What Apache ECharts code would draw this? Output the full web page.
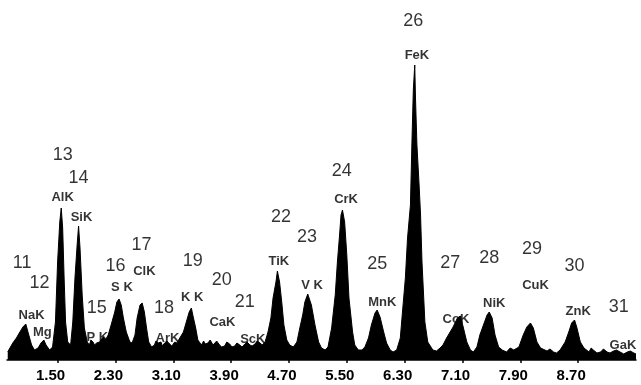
<!DOCTYPE html>
<html>
<head>
<meta charset="utf-8">
<script src="https://cdn.jsdelivr.net/npm/echarts@6/dist/echarts.min.js"></script>
<style>
  html, body { margin: 0; padding: 0; background: #fff; }
  #chart { width: 641px; height: 385px; }
</style>
</head>
<body>
<div id="chart"></div>
<script>
// spectrum: energy (keV) and counts
var energy = [
  0.81, 0.84, 0.88, 0.93, 0.97, 1.02, 1.06, 1.09, 1.14, 1.18,
  1.23, 1.27, 1.31, 1.34, 1.39, 1.43, 1.47, 1.50, 1.53, 1.55,
  1.57, 1.59, 1.61, 1.64, 1.68, 1.71, 1.74, 1.77, 1.79, 1.81,
  1.84, 1.87, 1.91, 1.94, 1.99, 2.04, 2.08, 2.13, 2.16, 2.20,
  2.24, 2.29, 2.32, 2.35, 2.38, 2.41, 2.45, 2.50, 2.53, 2.57,
  2.60, 2.64, 2.67, 2.70, 2.73, 2.76, 2.80, 2.84, 2.89, 2.93,
  2.98, 3.05, 3.12, 3.19, 3.24, 3.28, 3.32, 3.35, 3.37, 3.41,
  3.44, 3.49, 3.54, 3.58, 3.63, 3.67, 3.74, 3.81, 3.88, 3.95,
  4.02, 4.09, 4.16, 4.23, 4.30, 4.37, 4.41, 4.45, 4.48, 4.52,
  4.54, 4.57, 4.60, 4.63, 4.67, 4.71, 4.76, 4.81, 4.85, 4.89,
  4.92, 4.96, 5.01, 5.06, 5.11, 5.15, 5.20, 5.24, 5.29, 5.34,
  5.37, 5.40, 5.42, 5.44, 5.47, 5.50, 5.53, 5.58, 5.61, 5.66,
  5.71, 5.75, 5.80, 5.84, 5.89, 5.92, 5.96, 6.01, 6.05, 6.10,
  6.14, 6.19, 6.24, 6.27, 6.31, 6.34, 6.38, 6.40, 6.42, 6.44,
  6.45, 6.47, 6.50, 6.52, 6.54, 6.58, 6.62, 6.69, 6.79, 6.88,
  6.97, 7.03, 7.07, 7.11, 7.16, 7.21, 7.25, 7.30, 7.34, 7.39,
  7.44, 7.47, 7.51, 7.55, 7.60, 7.65, 7.71, 7.81, 7.88, 7.94,
  7.99, 8.04, 8.08, 8.13, 8.18, 8.27, 8.36, 8.45, 8.52, 8.57,
  8.61, 8.65, 8.68, 8.73, 8.78, 8.85, 8.91, 9.01, 9.10, 9.19,
  9.28, 9.38, 9.47, 9.50
];
var counts = [
  8, 12, 17, 22, 27, 33, 36, 28, 15, 10,
  12, 17, 20, 15, 10, 13, 38, 98, 138, 152,
  132, 82, 38, 18, 15, 38, 82, 115, 134, 112,
  65, 32, 18, 15, 18, 17, 18, 23, 20, 25,
  35, 48, 58, 61, 55, 42, 28, 18, 17, 25,
  42, 55, 57, 48, 32, 18, 13, 15, 17, 18,
  17, 16, 18, 22, 28, 38, 48, 52, 45, 32,
  20, 15, 16, 17, 18, 17, 15, 14, 16, 14,
  15, 16, 15, 16, 17, 18, 28, 42, 62, 78,
  89, 78, 58, 35, 20, 15, 13, 18, 32, 45,
  58, 66, 55, 35, 18, 12, 10, 13, 32, 65,
  98, 125, 145, 150, 138, 105, 62, 28, 15, 10,
  10, 13, 22, 35, 47, 50, 43, 28, 17, 10,
  8, 10, 22, 48, 82, 122, 155, 215, 270, 295,
  262, 215, 175, 145, 98, 38, 18, 10, 12, 22,
  33, 42, 44, 33, 18, 10, 8, 13, 25, 35,
  45, 48, 42, 25, 13, 10, 8, 10, 13, 25,
  33, 37, 32, 18, 12, 9, 8, 10, 18, 28,
  37, 40, 33, 18, 12, 8, 10, 8, 8, 9,
  8, 8, 7, 6
];

// ragged background between the peaks
var noiseE = [1.96, 2.01, 2.06, 2.10, 2.86, 2.95, 3.01, 3.08, 3.15,
              3.52, 3.56, 3.61, 3.65, 3.70, 3.77, 3.84, 3.91, 3.98,
              4.05, 4.12, 4.19, 4.26, 4.33, 6.74, 6.83, 7.76, 8.31, 8.40,
              8.88, 8.96, 9.05, 9.14, 9.23, 9.33, 9.42];
var noiseC = [20, 15, 19, 16, 19, 14, 19, 14, 17,
              19, 14, 20, 15, 19, 13, 18, 13, 17,
              13, 18, 14, 19, 15, 9, 15, 12, 11, 7,
              12, 7, 11, 7, 10, 6, 9];

var tickValues = [1.5, 2.3, 3.1, 3.9, 4.7, 5.5, 6.3, 7.1, 7.9, 8.7];

// element labels and where they sit (keV, counts)
var lineNames = ['NaK', 'Mg', 'AlK', 'SiK', 'P K', 'S K', 'ClK', 'ArK', 'K K', 'CaK', 'ScK',
                 'TiK', 'V K', 'CrK', 'MnK', 'FeK', 'CoK', 'NiK', 'CuK', 'ZnK', 'GaK'];
var lineNameE = [1.14, 1.29, 1.57, 1.83, 2.05, 2.39, 2.70, 3.02, 3.36, 3.78, 4.20,
                 4.56, 5.02, 5.49, 5.99, 6.47, 7.01, 7.54, 8.11, 8.70, 9.32];
var lineNameY = [45, 28, 163, 143, 23, 73, 89, 22, 63, 38, 21,
                 99, 75, 161, 58, 305, 41, 57, 75, 49, 15];

// atomic numbers above them
var atomicNums = ['11', '12', '13', '14', '15', '16', '17', '18', '19', '20', '21',
                  '22', '23', '24', '25', '26', '27', '28', '29', '30', '31'];
var atomicNumE = [1.01, 1.25, 1.57, 1.79, 2.04, 2.30, 2.66, 2.97, 3.37, 3.77, 4.09,
                  4.59, 4.95, 5.43, 5.92, 6.42, 6.93, 7.47, 8.06, 8.65, 9.26];
var atomicNumY = [97, 77, 205, 182, 52, 94, 115, 52, 99, 80, 58,
                  143, 123, 189, 96, 339, 97, 102, 111, 94, 53];

var spectrum = energy.map(function (e, i) { return [e, counts[i]]; })
  .concat(noiseE.map(function (e, i) { return [e, noiseC[i]]; }))
  .sort(function (a, b) { return a[0] - b[0]; });
var nameData = lineNames.map(function (n, i) { return { name: n, value: [lineNameE[i], lineNameY[i]] }; });
var numData = atomicNums.map(function (n, i) { return { name: n, value: [atomicNumE[i], atomicNumY[i]] }; });

var chart = echarts.init(document.getElementById('chart'), null, { renderer: 'canvas' });

chart.setOption({
  animation: false,
  backgroundColor: '#fff',
  grid: { left: 7, right: 5, top: 20, bottom: 25 },
  xAxis: {
    type: 'value',
    min: 0.8,
    max: 9.5,
    offset: 4,
    splitLine: { show: false },
    axisLine: { lineStyle: { color: '#000', width: 1.5 } },
    axisTick: { show: true, length: 3, customValues: tickValues, lineStyle: { color: '#000', width: 1.5 } },
    axisLabel: {
      customValues: tickValues,
      formatter: function (v) { return v.toFixed(2); },
      color: '#000',
      fontFamily: 'Liberation Sans',
      fontWeight: 'bold',
      fontSize: 15,
      margin: 4,
      padding: [0, 14, 0, 0]
    }
  },
  yAxis: { type: 'value', min: 0, max: 340, show: false },
  series: [
    {
      type: 'line',
      data: spectrum,
      showSymbol: false,
      sampling: null,
      lineStyle: { color: '#000', width: 1 },
      areaStyle: { color: '#000', opacity: 1 }
    },
    {
      type: 'scatter',
      data: nameData,
      symbolSize: 0,
      clip: false,
      label: {
        show: true,
        position: 'inside',
        formatter: '{b}',
        color: '#000',
        fontFamily: 'Liberation Sans',
        fontWeight: 'bold',
        fontSize: 13
      }
    },
    {
      type: 'scatter',
      data: numData,
      symbolSize: 0,
      clip: false,
      label: {
        show: true,
        position: 'inside',
        formatter: '{b}',
        color: '#000',
        fontFamily: 'Liberation Sans Narrow, Liberation Sans',
        fontSize: 18
      }
    }
  ]
});
</script>
</body>
</html>
